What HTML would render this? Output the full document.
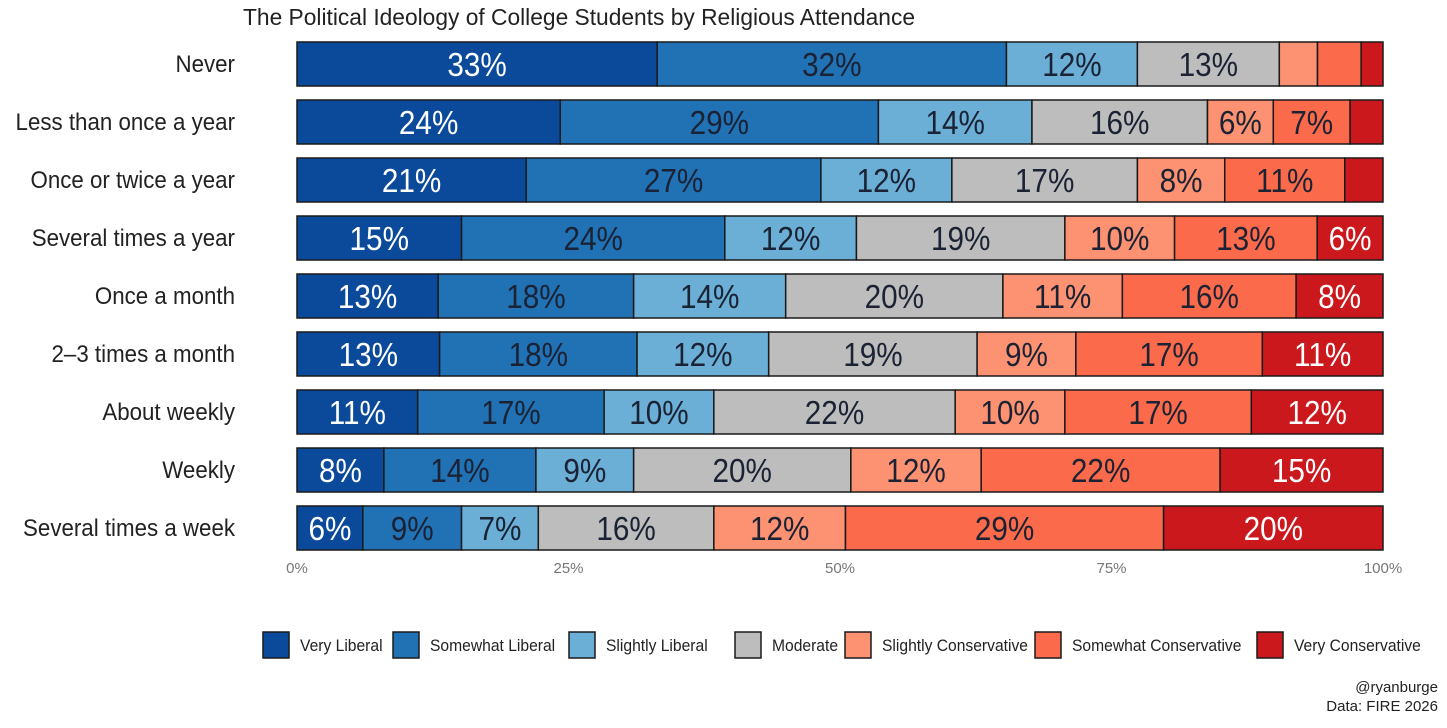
<!DOCTYPE html>
<html><head><meta charset="utf-8"><style>
body{margin:0;background:#fff;width:1447px;height:723px;overflow:hidden;font-family:"Liberation Sans",sans-serif}
svg text{font-family:"Liberation Sans",sans-serif}
</style></head><body>
<svg id="chart" width="1447" height="723">
<text x="243" y="25" font-size="23" fill="#222" textLength="672" lengthAdjust="spacingAndGlyphs">The Political Ideology of College Students by Religious Attendance</text>
<g id="bars"></g><g id="axis"></g><g id="legend"></g>
<text x="1438" y="692" font-size="15" fill="#222" text-anchor="end">@ryanburge</text>
<text x="1438" y="711" font-size="15" fill="#222" text-anchor="end">Data: FIRE 2026</text>
</svg>
<script>
const categories=["Never","Less than once a year","Once or twice a year","Several times a year","Once a month","2–3 times a month","About weekly","Weekly","Several times a week"];
const seriesNames=["Very Liberal","Somewhat Liberal","Slightly Liberal","Moderate","Slightly Conservative","Somewhat Conservative","Very Conservative"];
const veryLiberal=[33,24,21,15,13,13,11,8,6];
const somewhatLiberal=[32,29,27,24,18,18,17,14,9];
const slightlyLiberal=[12,14,12,12,14,12,10,9,7];
const moderate=[13,16,17,19,20,19,22,20,16];
const slightlyConservative=[3.5,6,8,10,11,9,10,12,12];
const somewhatConservative=[4,7,11,13,16,17,17,22,29];
const veryConservative=[2,3,3.5,6,8,11,12,15,20];
const tickLabels=["0%","25%","50%","75%","100%"];
const tickValues=[0,25,50,75,100];
const series=[veryLiberal,somewhatLiberal,slightlyLiberal,moderate,slightlyConservative,somewhatConservative,veryConservative];
const colors=["#0b4a9a","#2171b5","#6baed6","#bdbdbd","#fc9272","#fb6a4a","#cb181d"];
const textColors=["#fff","#1b2233","#1b2233","#1b2233","#1b2233","#1b2233","#fff"];
const NS="http://www.w3.org/2000/svg";
const x0=297,x1=1383;
const xs=v=>x0+(x1-x0)*v/100;
const yc=i=>64+i*58;
const bh=44;
function mk(t,a,p){const e=document.createElementNS(NS,t);for(const k in a)e.setAttribute(k,a[k]);p.appendChild(e);return e;}
function condense(e,x,s){e.setAttribute('x',x/s);e.setAttribute('transform','scale('+s+',1)');}
const gb=document.getElementById('bars');
categories.forEach((c,i)=>{
  const lab=mk('text',{y:yc(i)+8,'font-size':24,fill:'#222','text-anchor':'end'},gb);
  condense(lab,235,0.93);
  lab.textContent=c;
  
  
  const tot=series.reduce((s,a)=>s+a[i],0);
  let cum=0;
  series.forEach((arr,j)=>{
    const v=arr[i]/tot*100;
    const xa=xs(cum),xb=xs(cum+v);cum+=v;
    const r=mk('rect',{x:xa,y:yc(i)-bh/2,width:xb-xa,height:bh,fill:colors[j],stroke:'#1a1a1a','stroke-width':1.5},gb);
    
    
    if(arr[i]>=5){
      const t=mk('text',{y:yc(i)+12,'font-size':33,fill:textColors[j],'text-anchor':'middle','lengthAdjust':'spacingAndGlyphs'},gb);
      condense(t,(xa+xb)/2,0.9);
      t.textContent=Math.round(arr[i])+'%';
      
      
    }
  });
});
const ga=document.getElementById('axis');
tickValues.forEach((v,k)=>{
  const t=mk('text',{x:xs(v),y:573,'font-size':15,fill:'#777','text-anchor':'middle'},ga);
  t.textContent=tickLabels[k];
  
  
});
const gl=document.getElementById('legend');
const lx=[263,393,569,735,845,1035,1257];
seriesNames.forEach((n,j)=>{
  const r=mk('rect',{x:lx[j],y:632,width:26,height:26,fill:colors[j],stroke:'#1a1a1a','stroke-width':1.5},gl);
  
  
  const t=mk('text',{y:651,'font-size':17,fill:'#222'},gl);
  condense(t,lx[j]+37,0.92);
  t.textContent=n;
  
  
});
</script>
</body></html>
